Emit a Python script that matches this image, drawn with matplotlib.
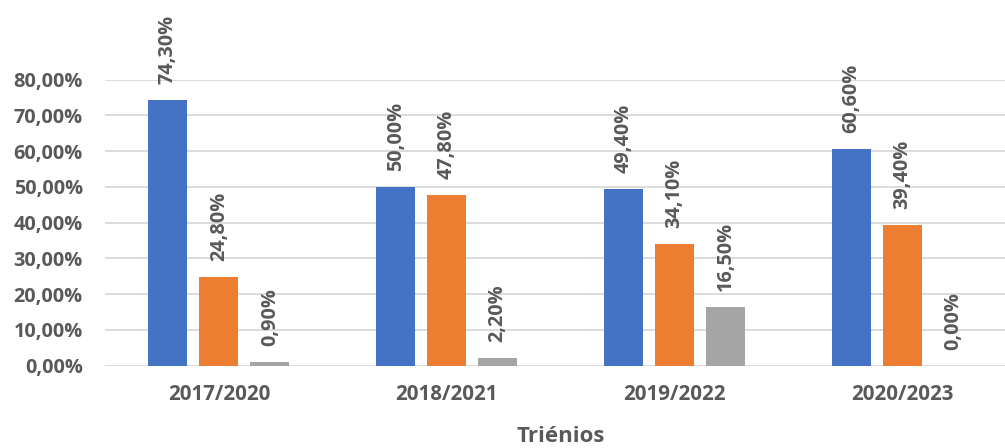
import matplotlib
matplotlib.use("Agg")
import matplotlib.pyplot as plt
import numpy as np

categories = ["2017/2020", "2018/2021", "2019/2022", "2020/2023"]
serie_1 = [74.30, 50.00, 49.40, 60.60]
serie_2 = [24.80, 47.80, 34.10, 39.40]
serie_3 = [0.90, 2.20, 16.50, 0.00]
series = [serie_1, serie_2, serie_3]
colors = ["#4472C4", "#ED7D31", "#A5A5A5"]
y_ticks = [0, 10, 20, 30, 40, 50, 60, 70, 80]
x_label = "Triénios"

plt.rcParams['font.family'] = ['Open Sans', 'DejaVu Sans']
text_color = "#595959"
fs = 14.3

fig = plt.figure(figsize=(10.05, 4.48), dpi=100)
W, H = 1005, 448
ax = fig.add_axes([105 / W, 82.5 / H, (1016 - 105) / W, (368.5 - 82.5) / H])

x = np.arange(len(categories))
bw = 0.171
step = 0.224
for i, (vals, c) in enumerate(zip(series, colors)):
    xs = x + (i - 1) * step
    ax.bar(xs, vals, width=bw, color=c, zorder=3)
    for xi, v in zip(xs, vals):
        ax.annotate(f"{v:.2f}%".replace(".", ","), xy=(xi, v), xytext=(0, 11.5),
                    textcoords="offset points", rotation=90, ha="center", va="bottom",
                    fontsize=fs, fontweight="bold", color=text_color,
                    annotation_clip=False)

ax.set_xlim(-0.5, len(categories) - 0.5)
ax.set_ylim(0, 80)
ax.set_yticks(y_ticks)
ax.set_yticklabels([f"{t:.2f}%".replace(".", ",") for t in y_ticks])
ax.set_xticks(x)
ax.set_xticklabels(categories)
ax.tick_params(axis="y", length=0, pad=16, labelsize=fs, labelcolor=text_color)
ax.tick_params(axis="x", length=0, pad=13, labelsize=fs + 0.5, labelcolor=text_color)
for lab in ax.get_xticklabels() + ax.get_yticklabels():
    lab.set_fontweight("bold")
ax.grid(axis="y", color="#D9D9D9", linewidth=1.3, zorder=0)
for s in ax.spines.values():
    s.set_visible(False)
ax.set_xlabel(x_label, fontsize=16, fontweight="bold", color=text_color, labelpad=15.5)

fig.savefig("out.png", dpi=100)
